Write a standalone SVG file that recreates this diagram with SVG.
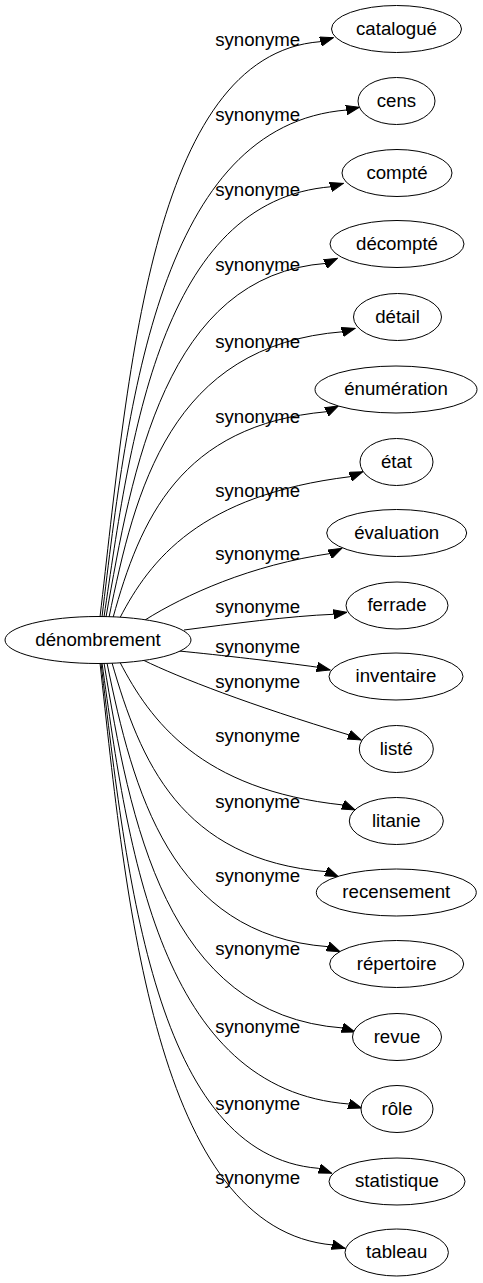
<svg xmlns="http://www.w3.org/2000/svg" width="483" height="1283" viewBox="0 0 483 1283">
<defs>
<style>
.n ellipse{fill:#fff;stroke:#000;stroke-width:1}
text{font-family:"Liberation Sans",Arial,sans-serif;font-size:18.67px;fill:#000;text-anchor:middle}
.e path{fill:none;stroke:#000;stroke-width:1;marker-end:url(#arr)}
</style>
<marker id="arr" markerUnits="userSpaceOnUse" markerWidth="14" markerHeight="10" viewBox="0 0 14 10" refX="13.3" refY="5" orient="auto"><polygon points="0,0.3 13.3,5 0,9.7" fill="#000" stroke="#000" stroke-width="1"/></marker>
</defs>
<rect width="483" height="1283" fill="#fff"/>
<g id="edges" class="e">
<path d="M100,617 C128,380 150,55 320,41.7 L333.3,37.7"/>
<path d="M102,617 C128,400 160,125 346.7,110 L359.3,107.3"/>
<path d="M104,617 C130,440 160,200 331.7,186.7 L343.3,183.3"/>
<path d="M106,617 C132,470 165,275 326.7,263.3 L337.3,258.3"/>
<path d="M109,617.4 C135,490 170,345 343.3,331.7 L355,328.3"/>
<path d="M113,617.7 C140,520 180,425 326.7,411.7 L338.3,406"/>
<path d="M120,617.7 C150,560 200,495 350,476.7 L362.7,471.7"/>
<path d="M145,620 C185,595 250,565 331.7,553.3 L341.7,548.3"/>
<path d="M184,630 C230,624 290,616 333.3,614.3 L346.7,612.3"/>
<path d="M179,651 C220,655 280,662 318.3,667.3 L330,670"/>
<path d="M143,660 C180,678 250,705 349.3,735 L361,740"/>
<path d="M120,662.3 C150,720 200,790 343.3,805 L355,810"/>
<path d="M112,662.8 C140,760 180,860 326.7,871.7 L338.3,876.7"/>
<path d="M107,663 C133,790 170,935 328.3,946.7 L340,951.7"/>
<path d="M104,663 C130,820 165,1015 343,1028 L355,1032"/>
<path d="M102,663 C128,850 160,1090 349,1104 L361.5,1108"/>
<path d="M101,663 C127,880 155,1155 318.3,1168.3 L331.7,1173.3"/>
<path d="M100,663 C126,900 155,1230 333.3,1245 L345,1248.3"/>
<text x="257.7" y="45.5">synonyme</text>
<text x="257.7" y="120.5">synonyme</text>
<text x="257.7" y="195.5">synonyme</text>
<text x="257.7" y="270.5">synonyme</text>
<text x="257.7" y="348">synonyme</text>
<text x="257.7" y="423">synonyme</text>
<text x="257.7" y="496.5">synonyme</text>
<text x="257.7" y="560">synonyme</text>
<text x="257.7" y="613">synonyme</text>
<text x="257.7" y="652.5">synonyme</text>
<text x="257.7" y="688">synonyme</text>
<text x="257.7" y="741.5">synonyme</text>
<text x="257.7" y="808">synonyme</text>
<text x="257.7" y="881.5">synonyme</text>
<text x="257.7" y="955">synonyme</text>
<text x="257.7" y="1033">synonyme</text>
<text x="257.7" y="1110">synonyme</text>
<text x="257.7" y="1184">synonyme</text>
</g>
<g id="n_denombrement" class="n"><ellipse cx="98" cy="640" rx="93" ry="23.5"/><text x="98" y="645.5">dénombrement</text></g>
<g id="n_catalogue" class="n"><ellipse cx="396.5" cy="29" rx="65" ry="23.5"/><text x="396.5" y="34.5">catalogué</text></g>
<g id="n_cens" class="n"><ellipse cx="396.5" cy="101" rx="38.5" ry="23.5"/><text x="396.5" y="106.5">cens</text></g>
<g id="n_compte" class="n"><ellipse cx="397" cy="173" rx="55" ry="23.5"/><text x="397" y="178.5">compté</text></g>
<g id="n_decompte" class="n"><ellipse cx="397" cy="244" rx="67" ry="23.5"/><text x="397" y="249.5">décompté</text></g>
<g id="n_detail" class="n"><ellipse cx="397.5" cy="317" rx="44" ry="23.5"/><text x="397.5" y="322.5">détail</text></g>
<g id="n_enumeration" class="n"><ellipse cx="396" cy="389.5" rx="81" ry="23.5"/><text x="396" y="395">énumération</text></g>
<g id="n_etat" class="n"><ellipse cx="396.5" cy="462" rx="36.5" ry="23.5"/><text x="396.5" y="467.5">état</text></g>
<g id="n_evaluation" class="n"><ellipse cx="396.7" cy="533" rx="70" ry="23.5"/><text x="396.7" y="538.5">évaluation</text></g>
<g id="n_ferrade" class="n"><ellipse cx="397" cy="605.5" rx="51" ry="23.5"/><text x="397" y="611">ferrade</text></g>
<g id="n_inventaire" class="n"><ellipse cx="396" cy="676.5" rx="67" ry="23.5"/><text x="396" y="682">inventaire</text></g>
<g id="n_liste" class="n"><ellipse cx="396.3" cy="749" rx="37" ry="23.5"/><text x="396.3" y="754.5">listé</text></g>
<g id="n_litanie" class="n"><ellipse cx="396.3" cy="821" rx="47" ry="23.5"/><text x="396.3" y="826.5">litanie</text></g>
<g id="n_recensement" class="n"><ellipse cx="396.3" cy="892.5" rx="80" ry="23.5"/><text x="396.3" y="898">recensement</text></g>
<g id="n_repertoire" class="n"><ellipse cx="396.7" cy="964" rx="67" ry="23.5"/><text x="396.7" y="969.5">répertoire</text></g>
<g id="n_revue" class="n"><ellipse cx="397" cy="1037" rx="44.5" ry="23.5"/><text x="397" y="1042.5">revue</text></g>
<g id="n_role" class="n"><ellipse cx="397" cy="1109" rx="36" ry="23.5"/><text x="397" y="1114.5">rôle</text></g>
<g id="n_statistique" class="n"><ellipse cx="397" cy="1181.5" rx="68" ry="23.5"/><text x="397" y="1187">statistique</text></g>
<g id="n_tableau" class="n"><ellipse cx="396.7" cy="1252.5" rx="51.7" ry="23.5"/><text x="396.7" y="1258">tableau</text></g>
</svg>
